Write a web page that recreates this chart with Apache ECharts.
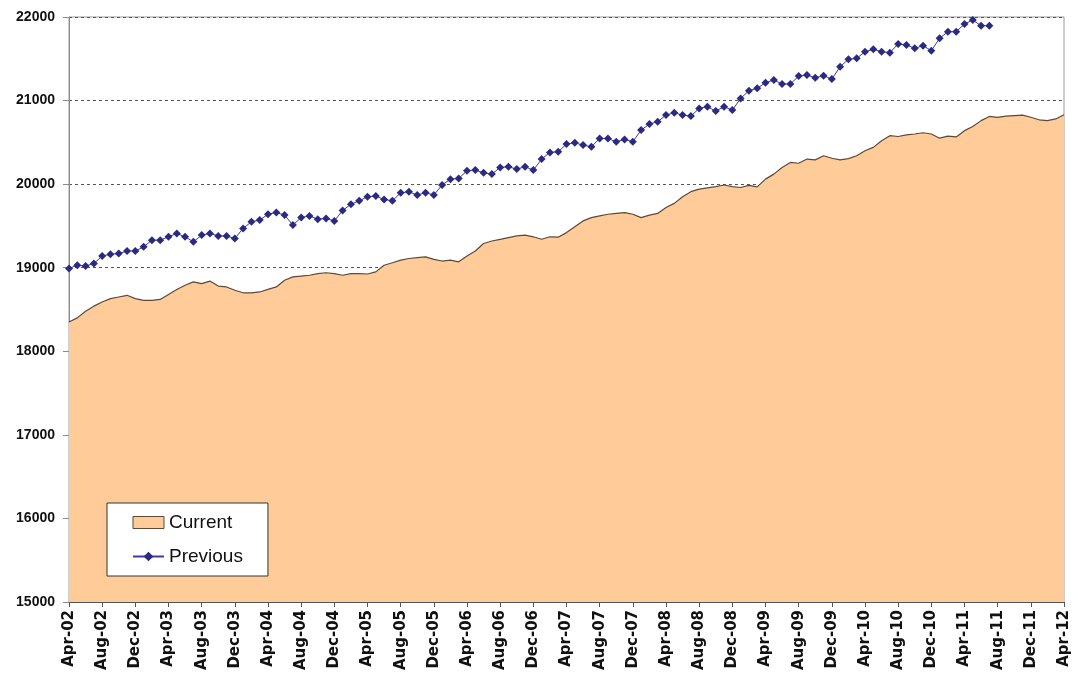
<!DOCTYPE html>
<html>
<head>
<meta charset="utf-8">
<script src="https://cdn.jsdelivr.net/npm/echarts@6/dist/echarts.min.js"></script>
<style>
  html, body { margin: 0; padding: 0; background: #fff; }
  #chart { width: 1073px; height: 684px; }
</style>
</head>
<body>
<div id="chart"></div>
<script>
// month labels Apr-02 .. Apr-12
const monthNames = ['Jan', 'Feb', 'Mar', 'Apr', 'May', 'Jun', 'Jul', 'Aug', 'Sep', 'Oct', 'Nov', 'Dec']
const months = []
for (let y = 2; y <= 12; y++) {
  for (let m = 0; m < 12; m++) {
    if (y === 2 && m < 3) continue
    if (y === 12 && m > 3) continue
    months.push(monthNames[m] + '-' + String(y).padStart(2, '0'))
  }
}

const yTicks = [15000, 22000, 1000] // min, max, step

// one value per month
const current = [
  18350, 18400, 18480, 18540, 18590, 18630, 18650, 18670, 18630, 18610, 18610, 18620,
  18680, 18740, 18790, 18830, 18810, 18840, 18780, 18770, 18730, 18700, 18700, 18710,
  18740, 18770, 18850, 18890, 18900, 18910, 18930, 18940, 18930, 18910, 18930, 18930,
  18925, 18950, 19030, 19060, 19090, 19110, 19120, 19130, 19100, 19080, 19090, 19070,
  19140, 19200, 19290, 19320, 19340, 19360, 19380, 19390, 19370, 19340, 19370, 19365,
  19420, 19490, 19560, 19600, 19620, 19640, 19650, 19660, 19640, 19600, 19630, 19650,
  19720, 19770, 19850, 19910, 19940, 19955, 19970, 19990, 19970, 19960, 19985, 19968,
  20060, 20120, 20200, 20260, 20250, 20300, 20290, 20340, 20310, 20290, 20305, 20340,
  20400, 20440, 20520, 20580, 20570, 20590, 20600, 20615, 20600, 20550, 20575, 20565,
  20640, 20690, 20760, 20810, 20800, 20815, 20820, 20825, 20800, 20770, 20760, 20780,
  20830
]

const previous = [
  18990, 19030, 19020, 19050, 19140, 19160, 19170, 19200, 19200, 19250, 19330, 19330,
  19370, 19410, 19370, 19310, 19390, 19410, 19380, 19380, 19350, 19470, 19550, 19570,
  19640, 19660, 19630, 19510, 19600, 19620, 19580, 19590, 19560, 19685, 19760, 19800,
  19850, 19857, 19817, 19800, 19896, 19908, 19870, 19896, 19870, 19990, 20060, 20068,
  20160, 20168, 20135, 20120, 20200, 20208, 20180, 20208, 20168, 20300, 20380, 20387,
  20480, 20495, 20467, 20447, 20547, 20547, 20507, 20535, 20507, 20647, 20719, 20747,
  20826, 20854, 20826, 20814, 20906, 20926, 20874, 20926, 20886, 21026, 21118, 21146,
  21214, 21246, 21198, 21198, 21293, 21305, 21273, 21297, 21257, 21405, 21493, 21505,
  21585, 21613, 21585, 21573, 21677, 21665, 21625, 21657, 21597, 21745, 21824, 21824,
  21916, 21964, 21896, 21896
]

const chart = echarts.init(document.getElementById('chart'))

chart.setOption({
  animation: false,
  backgroundColor: '#fff',
  grid: {
    left: 69, right: 9, top: 17, bottom: 82,
    show: true, borderColor: '#9a9a9a', borderWidth: 1
  },
  legend: {
    orient: 'vertical',
    left: 107, top: 503,
    padding: [10, 25, 10, 25],
    itemGap: 15,
    itemWidth: 31, itemHeight: 12,
    backgroundColor: '#fff',
    borderColor: '#333', borderWidth: 1,
    textStyle: { fontFamily: 'Liberation Sans, Arial', fontSize: 19, color: '#111' },
    data: [
      { name: 'Current', icon: 'rect', itemStyle: { color: '#FFCC99', borderColor: '#5a4a3a', borderWidth: 1 } },
      { name: 'Previous' }
    ]
  },
  xAxis: {
    type: 'category',
    data: months,
    boundaryGap: false,
    axisLine: { lineStyle: { color: '#555', width: 1 } },
    axisTick: { interval: 3, length: 5, lineStyle: { color: '#555' } },
    axisLabel: {
      interval: 3, rotate: 90, margin: 8,
      fontFamily: 'DejaVu Sans', fontWeight: 'bold', fontSize: 15, color: '#111'
    },
    splitLine: { show: false }
  },
  yAxis: {
    type: 'value',
    min: yTicks[0], max: yTicks[1], interval: yTicks[2],
    axisLine: { show: true, lineStyle: { color: '#8a8a8a' } },
    axisTick: { show: true, length: 6, lineStyle: { color: '#8a8a8a' } },
    axisLabel: {
      margin: 14,
      formatter: v => String(v),
      fontFamily: 'Liberation Sans, Arial', fontWeight: 'bold', fontSize: 14, color: '#111'
    },
    splitLine: { lineStyle: { color: '#555', type: [3, 3], width: 1 } }
  },
  series: [
    {
      name: 'Current',
      type: 'line',
      data: current,
      symbol: 'none',
      lineStyle: { color: '#5a4a3a', width: 1.2 },
      itemStyle: { color: '#FFCC99' },
      areaStyle: { color: '#FFCC99', opacity: 1 }
    },
    {
      name: 'Previous',
      type: 'line',
      data: previous,
      symbol: 'diamond',
      symbolSize: 8,
      showAllSymbol: true,
      lineStyle: { color: '#3a3aa8', width: 1 },
      itemStyle: { color: '#2a2a80' }
    }
  ]
})
</script>
</body>
</html>
